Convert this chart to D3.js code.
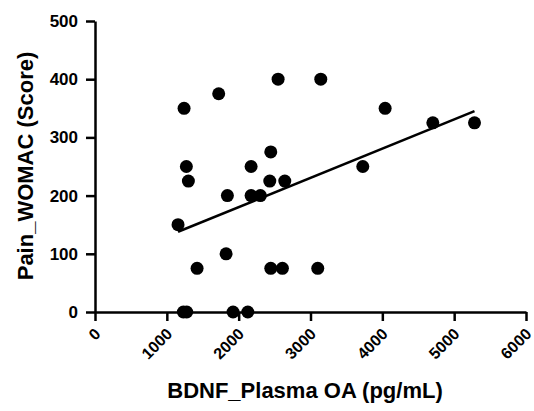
<!DOCTYPE html>
<html>

<head>
    <meta charset="utf-8">
    <script src="https://cdn.jsdelivr.net/npm/d3@7"></script>
    <style>
        body { margin: 0; background: white; }
        text {
            fill: black;
            font-family: "Liberation Sans", Arial, sans-serif;
            font-weight: bold;
        }
    </style>
</head>

<body>

    <script>

        // BDNF plasma (pg/mL) and WOMAC pain score
        var bdnf = [1240, 1722, 2549, 3143, 2447, 1272, 2173, 1300, 2433, 2642,
            1843, 2173, 2302, 1156, 1825, 1421, 2447, 2609, 3101, 1230,
            1277, 1922, 2127, 4039, 4703, 5283, 3728];
        var pain = [350, 375, 400, 400, 275, 250, 250, 225, 225, 225,
            200, 200, 200, 150, 100, 75, 75, 75, 75, 0,
            0, 0, 0, 350, 325, 325, 250];

        var xTicks = [0, 1000, 2000, 3000, 4000, 5000, 6000];
        var yTicks = [0, 100, 200, 300, 400, 500];

        var svg = d3.select('body')
            .append('svg')
            .attr('width', 534)
            .attr('height', 411);

        var x = d3.scaleLinear().domain([0, 6000]).range([95, 526]);
        var y = d3.scaleLinear().domain([0, 500]).range([312, 21]);

        // y axis
        var gy = svg.append('g')
            .attr('transform', 'translate(95,0)')
            .call(d3.axisLeft(y).tickValues(yTicks).tickSize(9).tickSizeOuter(0).tickPadding(8));

        // x axis
        var gx = svg.append('g')
            .attr('transform', 'translate(0,312)')
            .call(d3.axisBottom(x).tickValues(xTicks).tickFormat(d3.format('d')).tickSize(9).tickSizeOuter(0));

        [gx, gy].forEach(function (g) {
            g.select('.domain').attr('stroke', 'black').attr('stroke-width', 2.5);
            g.selectAll('.tick line').attr('stroke', 'black').attr('stroke-width', 2.5);
        });

        gy.selectAll('.tick text')
            .style('font-size', '17px');

        gx.selectAll('.tick text')
            .style('font-size', '16px')
            .attr('text-anchor', 'end')
            .attr('dy', null)
            .attr('y', 0)
            .attr('transform', 'translate(6,23) rotate(-45)');

        // regression line from least squares
        var mx = d3.mean(bdnf), my = d3.mean(pain);
        var sxy = d3.sum(bdnf, function (v, i) { return (v - mx) * (pain[i] - my); });
        var sxx = d3.sum(bdnf, function (v) { return (v - mx) * (v - mx); });
        var slope = sxy / sxx, icpt = my - slope * mx;
        var ext = d3.extent(bdnf);

        svg.append('line')
            .attr('x1', x(ext[0]))
            .attr('y1', y(icpt + slope * ext[0]))
            .attr('x2', x(ext[1]))
            .attr('y2', y(icpt + slope * ext[1]))
            .attr('stroke', 'black')
            .attr('stroke-width', 2.5);

        svg.selectAll('circle.pt')
            .data(bdnf)
            .enter()
            .append('circle')
            .attr('class', 'pt')
            .attr('cx', function (d) { return x(d); })
            .attr('cy', function (d, i) { return y(pain[i]); })
            .attr('r', 6.5)
            .attr('fill', 'black');

        // axis titles
        svg.append('text')
            .attr('x', 305)
            .attr('y', 398)
            .attr('text-anchor', 'middle')
            .style('font-size', '22px')
            .text('BDNF_Plasma OA (pg/mL)');

        svg.append('text')
            .attr('transform', 'translate(33,166) rotate(-90)')
            .attr('text-anchor', 'middle')
            .style('font-size', '22px')
            .text('Pain_WOMAC (Score)');
    </script>

</body>

</html>
